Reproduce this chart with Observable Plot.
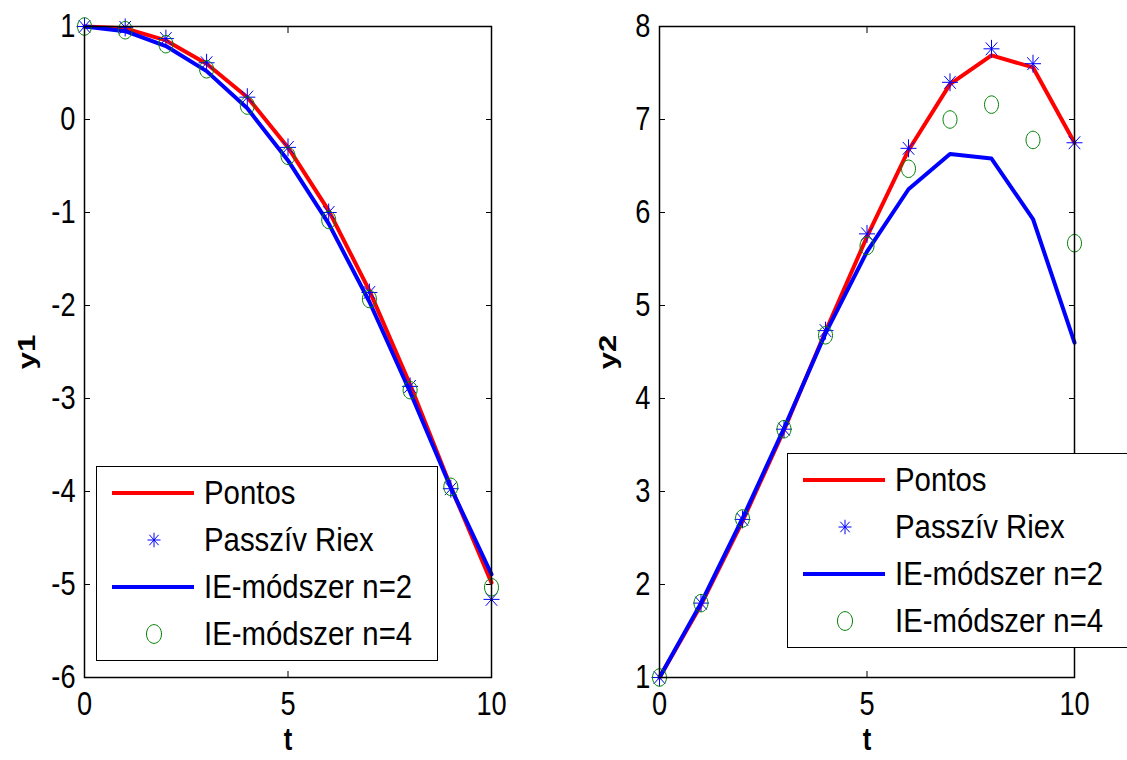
<!DOCTYPE html>
<html><head><meta charset="utf-8">
<script src="https://cdn.jsdelivr.net/npm/d3@7"></script>
<script src="https://cdn.jsdelivr.net/npm/@observablehq/plot@0.6"></script>
<style>
body{margin:0;background:#fff;}
#fig{position:relative;width:1127px;height:760px;overflow:hidden;font-family:"Liberation Sans",Arial,sans-serif;background:#fff;}
.panel{position:absolute;top:0;}
.legend{position:absolute;background:#fff;border:1.5px solid #000;box-sizing:border-box;}
.row{position:absolute;left:0;height:0;width:100%;}
.row svg{position:absolute;left:0;top:-15px;overflow:visible;}
.row span{position:absolute;top:-19px;line-height:38px;font-size:33px;white-space:nowrap;display:inline-block;transform:scaleX(0.89);transform-origin:0 50%;color:#000;}
</style></head><body><div id="fig"></div>
<script>
// ---- data ----
const t = [0, 1, 2, 3, 4, 5, 6, 7, 8, 9, 10];

// left panel: y1
const pontos1 = [1, 0.98, 0.85, 0.60, 0.24, -0.30, -0.98, -1.84, -2.85, -3.95, -4.98];
const riex1   = [1, 0.99, 0.87, 0.61, 0.24, -0.30, -1.00, -1.86, -2.87, -3.97, -5.16];
const ie2_1   = [1, 0.95, 0.79, 0.52, 0.12, -0.44, -1.12, -1.96, -2.93, -3.96, -4.89];
const ie4_1   = [1, 0.96, 0.81, 0.54, 0.15, -0.39, -1.08, -1.93, -2.91, -3.95, -5.03];

// right panel: y2
const pontos2 = [1, 1.78, 2.68, 3.66, 4.72, 5.74, 6.67, 7.38, 7.69, 7.56, 6.75];
const riex2   = [1, 1.80, 2.70, 3.67, 4.73, 5.77, 6.69, 7.40, 7.76, 7.60, 6.75];
const ie2_2   = [1, 1.80, 2.71, 3.68, 4.70, 5.58, 6.25, 6.63, 6.58, 5.93, 4.60];
const ie4_2   = [1, 1.80, 2.71, 3.67, 4.68, 5.64, 6.47, 7.00, 7.16, 6.78, 5.67];

const xTicks  = [0, 5, 10];
const y1Ticks = [-6, -5, -4, -3, -2, -1, 0, 1];
const y2Ticks = [1, 2, 3, 4, 5, 6, 7, 8];
const seriesNames = ["Pontos", "Passzív Riex", "IE-módszer n=2", "IE-módszer n=4"];
const xLabel = "t";
const yLabels = ["y1", "y2"];

// ---- styles ----
const RED = "#ff0000", BLUE = "#0000ff", GREEN = "#008000";

const asterisk = {draw(ctx, size) {
  const r = Math.sqrt(size / Math.PI), ry = r * 1.12;
  const d = r * 0.72, dy = ry * 0.72;
  ctx.moveTo(-r, 0); ctx.lineTo(r, 0);
  ctx.moveTo(0, -ry); ctx.lineTo(0, ry);
  ctx.moveTo(-d, -dy); ctx.lineTo(d, dy);
  ctx.moveTo(-d, dy); ctx.lineTo(d, -dy);
}};
const ellipse = {draw(ctx, size) {
  const rx = Math.sqrt(size / Math.PI), ry = rx * 1.25, k = 0.5523;
  const kx = k * rx, ky = k * ry;
  ctx.moveTo(rx, 0);
  ctx.bezierCurveTo(rx, ky, kx, ry, 0, ry);
  ctx.bezierCurveTo(-kx, ry, -rx, ky, -rx, 0);
  ctx.bezierCurveTo(-rx, -ky, -kx, -ry, 0, -ry);
  ctx.bezierCurveTo(kx, -ry, rx, -ky, rx, 0);
  ctx.closePath();
}};

const fmt = d => String(d);

function panel({left, width, marginLeft, marginRight, yDomain, yTicks, pontos, riex, ie2, ie4, yLabel, yLabelDx}) {
  const data = t.map((tt, i) => ({t: tt, pontos: pontos[i], riex: riex[i], ie2: ie2[i], ie4: ie4[i]}));
  const p = Plot.plot({
    width, height: 760,
    marginLeft, marginRight, marginTop: 26, marginBottom: 83,
    x: {domain: [0, 10]},
    y: {domain: yDomain},
    style: {fontFamily: "'Liberation Sans', Arial, sans-serif", fontSize: "34px", color: "#000", background: "transparent", overflow: "visible"},
    marks: [
      Plot.axisX({anchor: "bottom", ticks: xTicks, tickSize: -6, tickPadding: 19, tickFormat: fmt, label: null, fontSize: 34}),
      Plot.axisX({anchor: "top", ticks: xTicks, tickSize: -6, tickFormat: () => "", label: null}),
      Plot.axisY({anchor: "left", ticks: yTicks, tickSize: -6, tickPadding: 15, tickFormat: fmt, label: null, fontSize: 34}),
      Plot.axisY({anchor: "right", ticks: yTicks, tickSize: -6, tickFormat: () => "", label: null}),
      Plot.line(data, {x: "t", y: "pontos", stroke: RED, strokeWidth: 4}),
      Plot.dot(data, {x: "t", y: "riex", symbol: asterisk, r: 8, stroke: BLUE, fill: "none", strokeWidth: 1}),
      Plot.line(data, {x: "t", y: "ie2", stroke: BLUE, strokeWidth: 4}),
      Plot.dot(data, {x: "t", y: "ie4", symbol: ellipse, r: 7, stroke: GREEN, fill: "none", strokeWidth: 1}),
      Plot.frame({stroke: "#000", strokeWidth: 1.5}),
      Plot.text([xLabel], {frameAnchor: "bottom", lineAnchor: "middle", textAnchor: "middle", dy: 62, fontWeight: "bold", fontSize: 32}),
      Plot.text([yLabel], {frameAnchor: "left", lineAnchor: "middle", textAnchor: "middle", rotate: -90, dx: yLabelDx, fontWeight: "bold", fontSize: 31})
    ]
  });
  // the reference figure is stretched vertically: compress glyphs horizontally
  d3.select(p).selectAll('g[aria-label="x-axis tick label"] text, g[aria-label="y-axis tick label"] text')
    .attr("transform", function() { return (this.getAttribute("transform") || "") + " scale(0.8,1)"; });
  d3.select(p).selectAll('g[aria-label="text"] text')
    .attr("transform", function() {
      const tr = this.getAttribute("transform") || "";
      return tr + (tr.includes("rotate") ? " scale(1,0.75)" : " scale(0.8,1)");
    });
  p.classList.add("panel");
  p.style.left = left + "px";
  return p;
}

function legend({left, top, width, height}) {
  const div = document.createElement("div");
  div.className = "legend";
  Object.assign(div.style, {left: left + "px", top: top + "px", width: width + "px", height: height + "px"});
  const kinds = ["line", "star", "line", "circle"];
  const colors = [RED, BLUE, BLUE, GREEN];
  seriesNames.forEach((name, i) => {
    const row = document.createElement("div");
    row.className = "row";
    row.style.top = (26 + 47 * i) + "px";
    const svg = d3.create("svg").attr("width", 100).attr("height", 30);
    if (kinds[i] === "line") {
      svg.append("line").attr("x1", 15).attr("x2", 97).attr("y1", 15).attr("y2", 15)
        .attr("stroke", colors[i]).attr("stroke-width", 4);
    } else if (kinds[i] === "star") {
      const pth = d3.path(); asterisk.draw(pth, Math.PI * 6.5 * 6.5);
      svg.append("path").attr("transform", "translate(57,15)").attr("d", pth.toString())
        .attr("stroke", colors[i]).attr("fill", "none");
    } else {
      const pth = d3.path(); ellipse.draw(pth, Math.PI * 7.5 * 7.5);
      svg.append("path").attr("transform", "translate(57,15)").attr("d", pth.toString())
        .attr("stroke", colors[i]).attr("fill", "none");
    }
    row.appendChild(svg.node());
    const span = document.createElement("span");
    span.textContent = name;
    span.style.left = "107px";
    row.appendChild(span);
    div.appendChild(row);
  });
  return div;
}

const fig = document.getElementById("fig");
fig.appendChild(panel({left: 0, width: 560, marginLeft: 84, marginRight: 69, yDomain: [-6, 1], yTicks: y1Ticks,
  pontos: pontos1, riex: riex1, ie2: ie2_1, ie4: ie4_1, yLabel: yLabels[0], yLabelDx: -57}));
fig.appendChild(panel({left: 560, width: 567, marginLeft: 99, marginRight: 53, yDomain: [1, 8], yTicks: y2Ticks,
  pontos: pontos2, riex: riex2, ie2: ie2_2, ie4: ie4_2, yLabel: yLabels[1], yLabelDx: -51}));
fig.appendChild(legend({left: 96, top: 466, width: 342, height: 195}));
fig.appendChild(legend({left: 787, top: 453, width: 345, height: 195}));
</script>
</body></html>
